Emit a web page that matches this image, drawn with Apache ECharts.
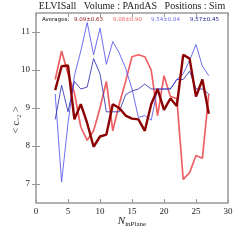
<!DOCTYPE html>
<html><head><meta charset="utf-8">
<script src="https://cdn.jsdelivr.net/npm/echarts@6/dist/echarts.min.js"></script>
<style>html,body{margin:0;padding:0;background:#fff}#c{width:240px;height:240px}</style>
</head><body><div id="c"></div>
<script>
var xValues = [3,4,5,6,7,8,9,10,11,12,13,14,15,16,17,18,19,20,21,22,23,24,25,26,27];
var darkRed  = [9.47,10.1,10.12,8.7,9.1,8.6,7.98,8.25,8.3,9.1,9.0,8.8,8.72,8.7,8.4,9.1,9.5,8.95,9.25,9.05,10.4,10.3,9.3,9.75,8.85];
var lightRed = [9.75,10.5,9.9,9.4,8.5,8.15,8.4,9.0,9.7,8.4,9.1,9.7,10.35,10.4,10.35,10.0,8.8,9.85,9.3,9.25,7.12,7.3,7.75,7.68,9.37];
var lightBlue= [9.37,7.05,8.6,9.85,10.5,11.25,10.4,11.1,10.15,10.75,10.45,10.05,9.5,8.75,8.8,8.68,9.5,9.5,9.5,9.75,9.9,10.25,10.67,10.1,9.85];
var darkBlue = [8.7,9.6,8.9,9.7,9.5,9.55,10.3,9.9,8.9,8.9,8.9,9.35,9.45,9.5,9.63,9.5,9.5,9.5,9.5,9.75,9.75,9.97,9.5,9.5,9.37];
var avgLabels = ['9.09\u00b10.63','9.08\u00b10.90','9.54\u00b10.84','9.57\u00b10.45'];
var xTicks = [0,5,10,15,20,25,30];
var yTicks = [7,8,9,10,11];

function pairs(v){ return xValues.map(function(x,i){return [x,v[i]];}); }
var serif = 'Liberation Serif';
var chart = echarts.init(document.getElementById('c'), null, {renderer:'canvas'});
function tick(vals){ return {inside:true,length:4,customValues:vals,lineStyle:{color:'#999',width:1}}; }
chart.setOption({
  animation:false,
  grid:{left:36,right:12,top:13,bottom:37,show:true,borderColor:'#9a9a9a',borderWidth:1.5,backgroundColor:'transparent'},
  xAxis:[
    {type:'value',min:0,max:30,position:'bottom',axisLine:{show:false},splitLine:{show:false},
      axisTick:tick(xTicks),
      axisLabel:{customValues:xTicks,fontFamily:serif,fontSize:9,color:'#222',margin:4}},
    {type:'value',min:0,max:30,position:'top',axisLine:{show:false},splitLine:{show:false},
      axisTick:tick(xTicks),axisLabel:{show:false}}
  ],
  yAxis:[
    {type:'value',min:6.5,max:11.5,position:'left',axisLine:{show:false},splitLine:{show:false},
      axisTick:tick(yTicks),
      axisLabel:{customValues:yTicks,fontFamily:serif,fontSize:9,color:'#222',margin:6}},
    {type:'value',min:6.5,max:11.5,position:'right',axisLine:{show:false},splitLine:{show:false},
      axisTick:tick(yTicks),axisLabel:{show:false}}
  ],
  series:[
    {type:'line',data:pairs(lightRed),symbol:'none',lineStyle:{color:'#e8383c',width:1.7,opacity:0.8},z:2},
    {type:'line',data:pairs(lightBlue),symbol:'none',lineStyle:{color:'#5555ee',width:1,opacity:0.85},z:3},
    {type:'line',data:pairs(darkBlue),symbol:'none',lineStyle:{color:'#3333b0',width:1,opacity:0.85},z:3},
    {type:'line',data:pairs(darkRed),symbol:'none',lineStyle:{color:'#8b0000',width:2.4},z:4}
  ],
  graphic:[
    {type:'text',x:132,y:1,style:{text:'ELVISall   Volume : PAndAS   Positions : Sim',font:'10px "Liberation Serif"',fill:'#222',align:'center'}},
    {type:'text',x:42,y:17,style:{text:'Averages:',font:'5.5px "DejaVu Sans"',fill:'#111'}},
    {type:'text',x:74,y:17,style:{text:avgLabels[0],font:'5.5px "DejaVu Sans"',fill:'#8b1010'}},
    {type:'text',x:113,y:17,style:{text:avgLabels[1],font:'5.5px "DejaVu Sans"',fill:'#f06060'}},
    {type:'text',x:151,y:17,style:{text:avgLabels[2],font:'5.5px "DejaVu Sans"',fill:'#7070f0'}},
    {type:'text',x:190,y:17,style:{text:avgLabels[3],font:'5.5px "DejaVu Sans"',fill:'#202090'}},
    {type:'text',x:16,y:120,rotation:Math.PI/2,style:{text:'< c\u208b\u2082 >',font:'10px "Liberation Serif"',fill:'#333',align:'center',verticalAlign:'middle'}},
    {type:'text',x:132,y:221,style:{rich:{a:{font:'italic 11px "Liberation Serif"',fill:'#222'},b:{font:'7px "Liberation Serif"',fill:'#222',padding:[6,0,0,0]}},text:'{a|N}{b|inPlane}',align:'center',verticalAlign:'middle'}}
  ]
});
</script></body></html>
